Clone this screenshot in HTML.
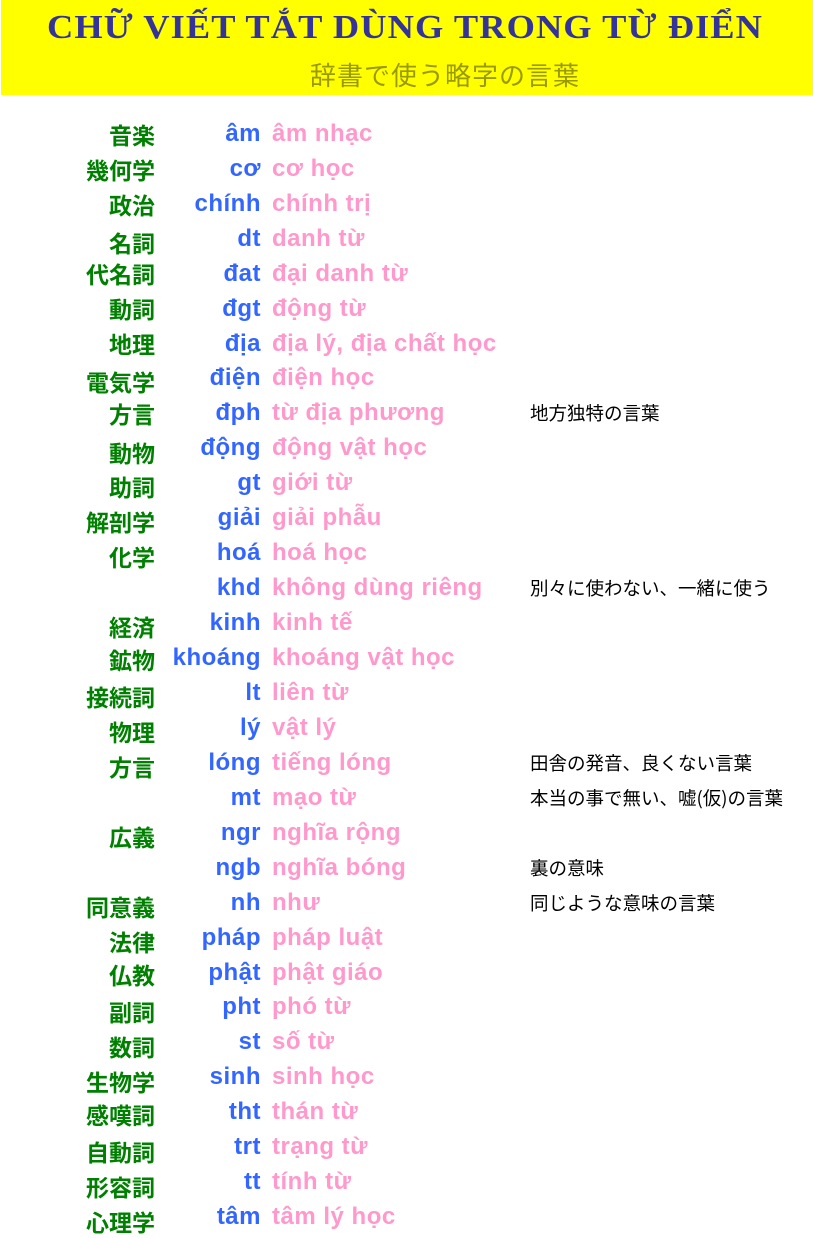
<!DOCTYPE html>
<html><head><meta charset="utf-8"><style>
body{margin:0;width:813px;height:1234px;background:#fff;position:relative;overflow:hidden}
.band{position:absolute;left:1px;top:0;width:812px;height:95px;background:#ffff00}
.t{position:absolute;left:47px;top:9px;white-space:nowrap;font:900 34px "Liberation Serif","Noto Serif CJK SC",serif;color:#333399;transform-origin:0 0;letter-spacing:1px}
.s{position:absolute;left:310px;top:58px;font:26px "Noto Sans CJK JP",sans-serif;color:#999900;line-height:34px;letter-spacing:1px}
.r{position:absolute;height:30px;line-height:30px;white-space:nowrap}
.g{right:658px;color:#008000;font:bold 23px "Noto Sans CJK JP",sans-serif;margin-top:-4px}
.b{right:552px;color:#3366ff;font:bold 24px "Liberation Sans","DejaVu Sans",sans-serif;letter-spacing:0.5px}
.p{left:272px;color:#ff99cc;font:bold 24px "Liberation Sans","DejaVu Sans",sans-serif;letter-spacing:0.5px}
.n{left:530px;color:#000;font:18.5px "Noto Sans CJK JP",sans-serif;margin-top:1px}
.w{position:absolute;left:0;top:3px;width:813px;height:1234px}
</style></head><body>
<div class="band"></div>
<div class="t" id="t">CHỮ VIẾT TẮT DÙNG TRONG TỪ ĐIỂN</div>
<div class="s">辞書で使う略字の言葉</div>
<div class="w">
<div class="r g" style="top:118px">音楽</div><div class="r b" style="top:117px">âm</div><div class="r p" style="top:117px">âm nhạc</div>
<div class="r g" style="top:153px">幾何学</div><div class="r b" style="top:152px">cơ</div><div class="r p" style="top:152px">cơ học</div>
<div class="r g" style="top:188px">政治</div><div class="r b" style="top:187px">chính</div><div class="r p" style="top:187px">chính trị</div>
<div class="r g" style="top:226px">名詞</div><div class="r b" style="top:222px">dt</div><div class="r p" style="top:222px">danh từ</div>
<div class="r g" style="top:257px">代名詞</div><div class="r b" style="top:257px">đat</div><div class="r p" style="top:257px">đại danh từ</div>
<div class="r g" style="top:292px">動詞</div><div class="r b" style="top:292px">đgt</div><div class="r p" style="top:292px">động từ</div>
<div class="r g" style="top:327px">地理</div><div class="r b" style="top:327px">địa</div><div class="r p" style="top:327px">địa lý, địa chất học</div>
<div class="r g" style="top:365px">電気学</div><div class="r b" style="top:361px">điện</div><div class="r p" style="top:361px">điện học</div>
<div class="r g" style="top:397px">方言</div><div class="r b" style="top:396px">đph</div><div class="r p" style="top:396px">từ địa phương</div><div class="r n" style="top:396px">地方独特の言葉</div>
<div class="r g" style="top:436px">動物</div><div class="r b" style="top:431px">động</div><div class="r p" style="top:431px">động vật học</div>
<div class="r g" style="top:470px">助詞</div><div class="r b" style="top:466px">gt</div><div class="r p" style="top:466px">giới từ</div>
<div class="r g" style="top:505px">解剖学</div><div class="r b" style="top:501px">giải</div><div class="r p" style="top:501px">giải phẫu</div>
<div class="r g" style="top:540px">化学</div><div class="r b" style="top:536px">hoá</div><div class="r p" style="top:536px">hoá học</div>
<div class="r b" style="top:571px">khd</div><div class="r p" style="top:571px">không dùng riêng</div><div class="r n" style="top:571px">別々に使わない、一緒に使う</div>
<div class="r g" style="top:610px">経済</div><div class="r b" style="top:606px">kinh</div><div class="r p" style="top:606px">kinh tế</div>
<div class="r g" style="top:643px">鉱物</div><div class="r b" style="top:641px">khoáng</div><div class="r p" style="top:641px">khoáng vật học</div>
<div class="r g" style="top:680px">接続詞</div><div class="r b" style="top:676px">lt</div><div class="r p" style="top:676px">liên từ</div>
<div class="r g" style="top:715px">物理</div><div class="r b" style="top:711px">lý</div><div class="r p" style="top:711px">vật lý</div>
<div class="r g" style="top:750px">方言</div><div class="r b" style="top:746px">lóng</div><div class="r p" style="top:746px">tiếng lóng</div><div class="r n" style="top:746px">田舎の発音、良くない言葉</div>
<div class="r b" style="top:781px">mt</div><div class="r p" style="top:781px">mạo từ</div><div class="r n" style="top:781px">本当の事で無い、嘘(仮)の言葉</div>
<div class="r g" style="top:820px">広義</div><div class="r b" style="top:816px">ngr</div><div class="r p" style="top:816px">nghĩa rộng</div>
<div class="r b" style="top:851px">ngb</div><div class="r p" style="top:851px">nghĩa bóng</div><div class="r n" style="top:851px">裏の意味</div>
<div class="r g" style="top:890px">同意義</div><div class="r b" style="top:886px">nh</div><div class="r p" style="top:886px">như</div><div class="r n" style="top:886px">同じような意味の言葉</div>
<div class="r g" style="top:925px">法律</div><div class="r b" style="top:921px">pháp</div><div class="r p" style="top:921px">pháp luật</div>
<div class="r g" style="top:958px">仏教</div><div class="r b" style="top:956px">phật</div><div class="r p" style="top:956px">phật giáo</div>
<div class="r g" style="top:995px">副詞</div><div class="r b" style="top:990px">pht</div><div class="r p" style="top:990px">phó từ</div>
<div class="r g" style="top:1030px">数詞</div><div class="r b" style="top:1025px">st</div><div class="r p" style="top:1025px">số từ</div>
<div class="r g" style="top:1065px">生物学</div><div class="r b" style="top:1060px">sinh</div><div class="r p" style="top:1060px">sinh học</div>
<div class="r g" style="top:1098px">感嘆詞</div><div class="r b" style="top:1095px">tht</div><div class="r p" style="top:1095px">thán từ</div>
<div class="r g" style="top:1135px">自動詞</div><div class="r b" style="top:1130px">trt</div><div class="r p" style="top:1130px">trạng từ</div>
<div class="r g" style="top:1170px">形容詞</div><div class="r b" style="top:1165px">tt</div><div class="r p" style="top:1165px">tính từ</div>
<div class="r g" style="top:1205px">心理学</div><div class="r b" style="top:1200px">tâm</div><div class="r p" style="top:1200px">tâm lý học</div>
</div>
<script>
var t=document.getElementById('t');var w=t.getBoundingClientRect().width;t.style.transform='scaleX('+(716/w)+')';
</script>
</body></html>
